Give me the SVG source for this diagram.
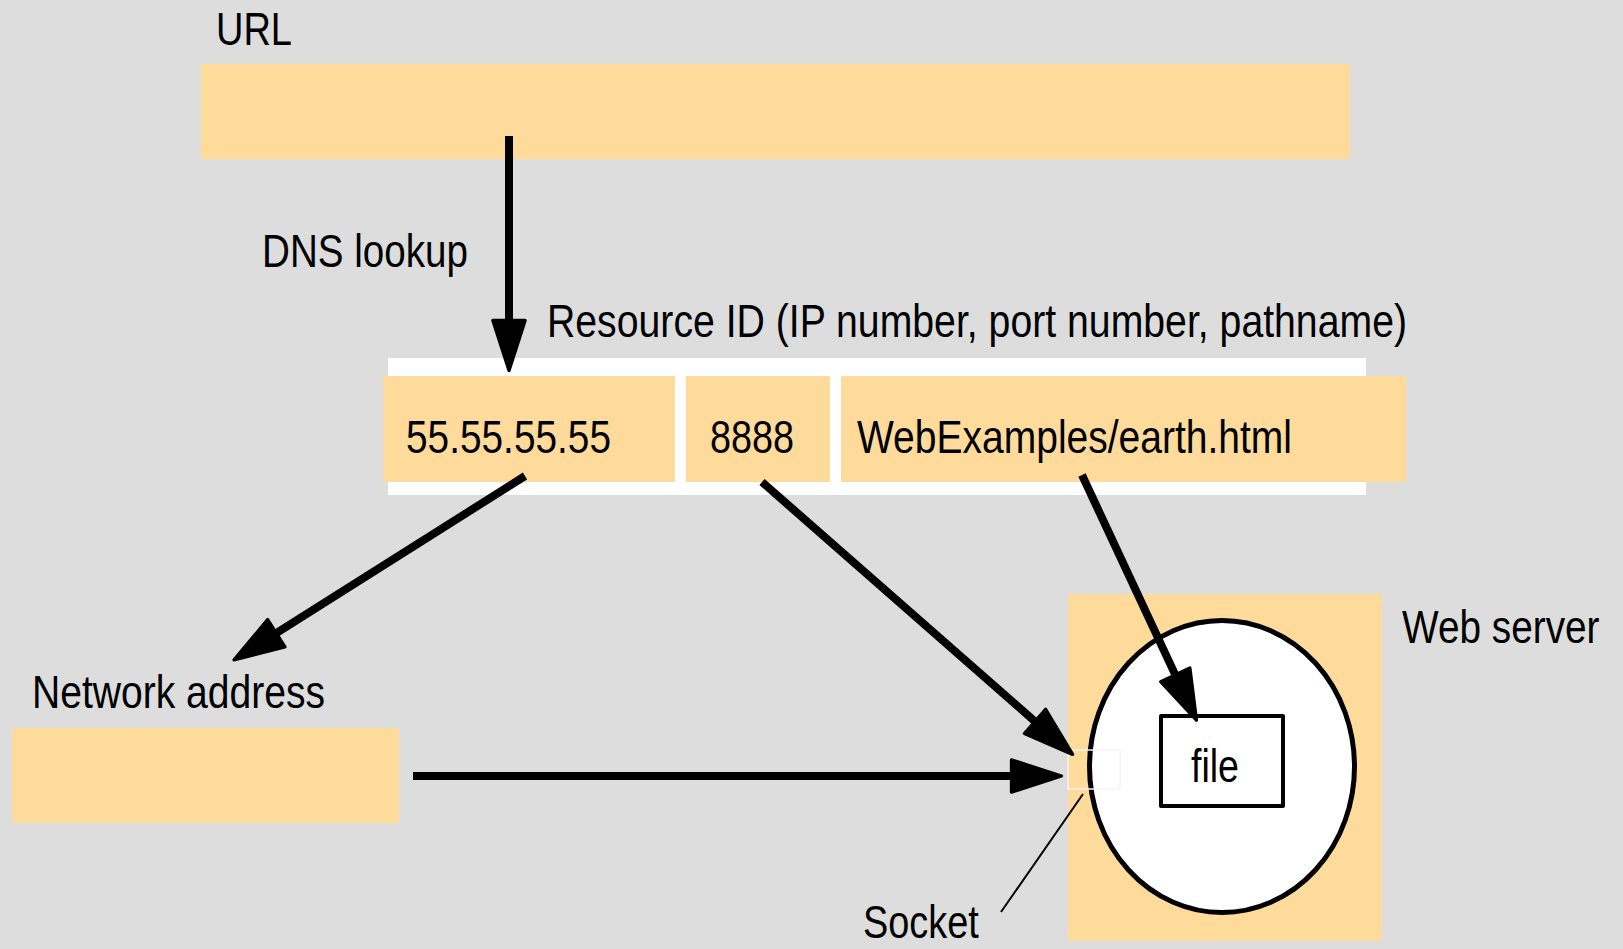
<svg xmlns="http://www.w3.org/2000/svg" width="1623" height="949" viewBox="0 0 1623 949">
  <style>
    .lbl { font-family: "Liberation Sans", Arial, Helvetica, sans-serif; font-size: 47px; fill: #000; }
    .slot { fill: #FEDB9A; }
    .wire { stroke: #000; stroke-width: 8; fill: none; stroke-linecap: butt; }
    .thin { stroke: #000; stroke-width: 2; fill: none; }
  </style>
  <defs>
    <marker id="head" markerUnits="userSpaceOnUse" markerWidth="60" markerHeight="40" viewBox="-3 -18 54 36" refX="0" refY="0" orient="auto">
      <polygon points="0,-14.5 45,0 0,14.5" fill="#000" stroke="#000" stroke-width="3" stroke-linejoin="round"/>
    </marker>
  </defs>

  <rect width="1623" height="949" fill="#DDDDDD"/>

  <!-- URL -->
  <g id="url">
    <rect class="slot" x="201" y="64" width="1149" height="95"/>
    <text class="lbl" x="216" y="45" textLength="76" lengthAdjust="spacingAndGlyphs">URL</text>
  </g>

  <!-- DNS lookup label -->
  <g id="dns-label">
    <text class="lbl" x="262" y="267" textLength="206" lengthAdjust="spacingAndGlyphs">DNS lookup</text>
  </g>

  <!-- Resource ID -->
  <g id="resource-id">
    <text class="lbl" x="547" y="337" textLength="860" lengthAdjust="spacingAndGlyphs">Resource ID (IP number, port number, pathname)</text>
    <rect x="388" y="358" width="978" height="137" fill="#FFFFFF"/>
  </g>
  <g id="ip">
    <rect class="slot" x="383" y="376" width="292" height="106"/>
    <text class="lbl" x="406" y="453" textLength="205" lengthAdjust="spacingAndGlyphs">55.55.55.55</text>
  </g>
  <g id="port">
    <rect class="slot" x="686" y="376" width="144" height="106"/>
    <text class="lbl" x="710" y="453" textLength="84" lengthAdjust="spacingAndGlyphs">8888</text>
  </g>
  <g id="path">
    <rect class="slot" x="841" y="376" width="565" height="106"/>
    <text class="lbl" x="857" y="453" textLength="435" lengthAdjust="spacingAndGlyphs">WebExamples/earth.html</text>
  </g>

  <!-- Network address -->
  <g id="network-address">
    <rect class="slot" x="12" y="728" width="387" height="95"/>
    <text class="lbl" x="32" y="708" textLength="293" lengthAdjust="spacingAndGlyphs">Network address</text>
  </g>

  <!-- Web server -->
  <g id="web-server">
    <rect class="slot" x="1068" y="594" width="314" height="347"/>
    <ellipse cx="1222" cy="766.5" rx="132.5" ry="146" fill="#FFFFFF" stroke="#000" stroke-width="5"/>
    <text class="lbl" transform="translate(1402,643) scale(0.825,1)" x="0" y="0">Web server</text>
  </g>
  <g id="file">
    <rect x="1161" y="716" width="122" height="90" fill="#FFFFFF" stroke="#000" stroke-width="4" stroke-linejoin="round"/>
    <text class="lbl" x="1191" y="782" textLength="48" lengthAdjust="spacingAndGlyphs">file</text>
  </g>
  <g id="socket">
    <rect x="1068" y="750" width="52" height="39" fill="none" stroke="#F4F4F4" stroke-width="1.5"/>
    <text class="lbl" transform="translate(863,938) scale(0.807,1)" x="0" y="0">Socket</text>
  </g>

  <!-- connectors -->
  <g id="connectors">
    <line class="wire" x1="509" y1="136" x2="509" y2="320.5" marker-end="url(#head)"/>
    <line class="wire" x1="525" y1="476" x2="276.3" y2="633.2" marker-end="url(#head)"/>
    <line class="wire" x1="762" y1="482" x2="1035" y2="721.4" marker-end="url(#head)"/>
    <line class="wire" x1="1082" y1="475" x2="1175.3" y2="674.9" marker-end="url(#head)"/>
    <line class="wire" x1="413" y1="776" x2="1011.5" y2="776" marker-end="url(#head)"/>
    <line class="thin" x1="1083" y1="794" x2="1001" y2="912"/>
  </g>
</svg>
